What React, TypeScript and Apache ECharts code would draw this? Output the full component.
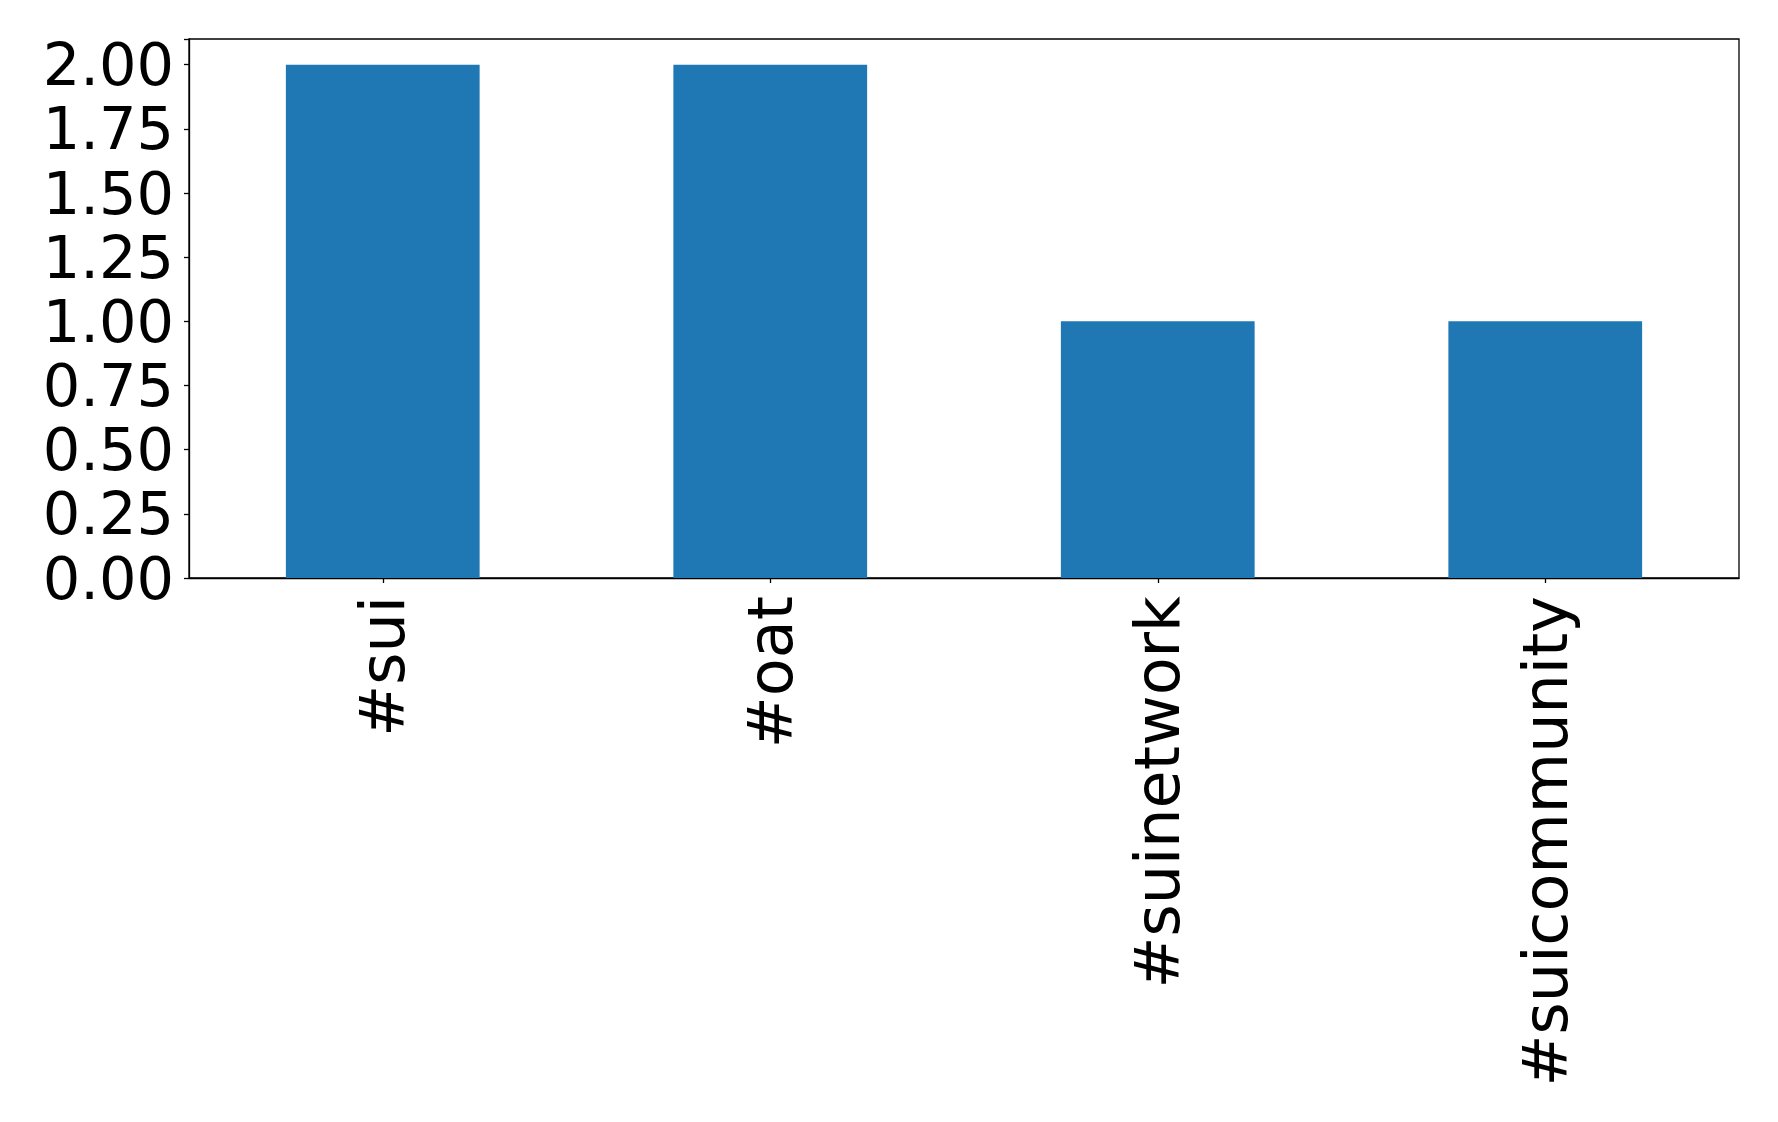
import React, { useEffect, useRef } from "react";
import * as echarts from "echarts";

const categories = ["#sui", "#oat", "#suinetwork", "#suicommunity"];
const counts = [2, 2, 1, 1];
const yMin = 0;
const yMax = 2.1;
const yStep = 0.25;

export default function App() {
  const ref = useRef<HTMLDivElement>(null);
  useEffect(() => {
    if (!ref.current) return;
    const chart = echarts.init(ref.current, null, { renderer: "svg" });
    const font = "DejaVu Sans";
    chart.setOption({
      animation: false,
      backgroundColor: "#ffffff",
      grid: {
        left: 189,
        top: 39,
        right: 39,
        bottom: 544,
        show: true,
        borderColor: "#000",
        borderWidth: 1.3,
        backgroundColor: "transparent",
      },
      xAxis: {
        type: "category",
        data: categories,
        axisLine: { show: true, lineStyle: { color: "#000", width: 1.3 } },
        axisTick: { show: true, alignWithLabel: true, length: 5, lineStyle: { color: "#000", width: 1.3 } },
        axisLabel: {
          rotate: 90,
          margin: 18,
          color: "#000",
          fontFamily: font,
          fontSize: 62,
        },
        splitLine: { show: false },
      },
      yAxis: {
        type: "value",
        min: yMin,
        max: yMax,
        interval: yStep,
        axisLine: { show: true, lineStyle: { color: "#000", width: 1.3 } },
        axisTick: { show: true, length: 5, lineStyle: { color: "#000", width: 1.3 } },
        axisLabel: {
          margin: 15,
          color: "#000",
          fontFamily: font,
          fontSize: 59,
          lineHeight: 56,
          formatter: (v: number) => {
            const r = Math.round(v / yStep) * yStep;
            if (Math.abs(r - v) > 1e-6) return "";
            return v.toFixed(2);
          },
        },
        splitLine: { show: false },
      },
      series: [
        {
          type: "bar",
          data: counts,
          barWidth: "50%",
          itemStyle: { color: "#1f77b4" },
        },
      ],
    });
    return () => chart.dispose();
  }, []);
  return (
    <div
      ref={ref}
      style={{ position: "fixed", left: 0, top: 0, width: 1778, height: 1122, background: "#fff" }}
    />
  );
}
